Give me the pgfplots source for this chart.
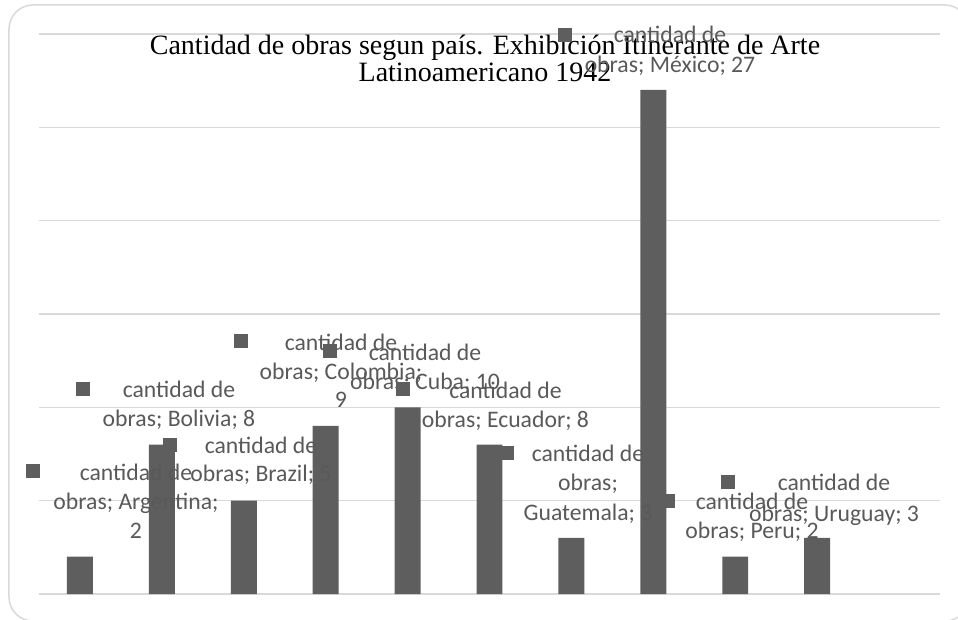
\documentclass[border=0pt]{standalone}
\usepackage{pgfplots}
\pgfplotsset{compat=1.18}
\usepackage{fontspec}
\setmainfont{Liberation Serif}
\newfontfamily\labfont{Carlito}
\definecolor{barc}{HTML}{5E5E5E}
\definecolor{labc}{HTML}{595959}
\definecolor{gridc}{HTML}{D9D9D9}
\newcommand{\lbl}[3]{\node[anchor=base, inner sep=0pt, text=labc, font=\labfont\fontsize{11.85bp}{14.5bp}\selectfont] at (#1bp,#2bp) {#3};}
\newcommand{\sq}[2]{\node[anchor=center, inner sep=0pt] at (#1bp,#2bp) {\textcolor{barc}{\rule{7bp}{7bp}}};}
\begin{document}
\begin{tikzpicture}
\begin{scope}
\clip (-19.5bp,-13bp) rectangle (459.5bp,297bp);
\draw[gridc, line width=0.75bp, rounded corners=12bp] (-15bp,-13.5bp) rectangle (465bp,294.5bp);
\end{scope}
\useasboundingbox (-19.5bp,-13bp) rectangle (459.5bp,297bp);
\begin{axis}[
  at={(0,0)}, anchor=south west,
  scale only axis, width=450.5bp, height=280bp,
  xmin=-0.5, xmax=10.5, ymin=0, ymax=30,
  ytick={0,5,...,30}, yticklabels={}, xtick=\empty,
  ymajorgrids, grid style={gridc, line width=0.75bp},
  axis line style={draw=none}, major tick length=0pt,
  tick style={draw=none},
  clip=false,
  ybar, bar width=0.317,
]
\addplot[fill=barc, draw=none] coordinates {
  (0,2) (1,8) (2,5) (3,9) (4,10) (5,8) (6,3) (7,27) (8,2) (9,3)
};
\end{axis}
% title
\node[anchor=base, inner sep=0pt, font=\fontsize{14bp}{13.5bp}\selectfont] at (223bp,269.5bp) {Cantidad de obras segun país. Exhibición Itinerante de Arte};
\node[anchor=base, inner sep=0pt, font=\fontsize{14bp}{13.5bp}\selectfont] at (223bp,256bp) {Latinoamericano 1942};
% data labels
\sq{-3}{61.5}
\lbl{48.5}{56.5}{cantidad de}
\lbl{48.5}{42}{obras; Argentina;}
\lbl{48.5}{28}{2}
\sq{22}{102.5}
\lbl{70}{98}{cantidad de}
\lbl{70}{83.5}{obras; Bolivia; 8}
\sq{65.5}{74.5}
\lbl{111}{70}{cantidad de}
\lbl{111}{56}{obras; Brazil; 5}
\sq{101}{126.5}
\lbl{151}{121.5}{cantidad de}
\lbl{151}{107}{obras; Colombia;}
\lbl{151}{93}{9}
\sq{145.5}{121.5}
\lbl{193}{116.5}{cantidad de}
\lbl{193}{102}{obras; Cuba; 10}
\sq{182}{102.5}
\lbl{233.25}{97.5}{cantidad de}
\lbl{233.25}{83}{obras; Ecuador; 8}
\sq{234}{70.5}
\lbl{274.5}{66}{cantidad de}
\lbl{274.5}{51.5}{obras;}
\lbl{274.5}{37}{Guatemala; 3}
\sq{263}{279.5}
\lbl{315.5}{275.5}{cantidad de}
\lbl{315.5}{260.5}{obras; México; 27}
\sq{314.5}{46.5}
\lbl{356.5}{42}{cantidad de}
\lbl{356.5}{28}{obras; Peru; 2}
\sq{344.5}{56}
\lbl{397.5}{51.5}{cantidad de}
\lbl{397.5}{36.5}{obras; Uruguay; 3}
\end{tikzpicture}
\end{document}
